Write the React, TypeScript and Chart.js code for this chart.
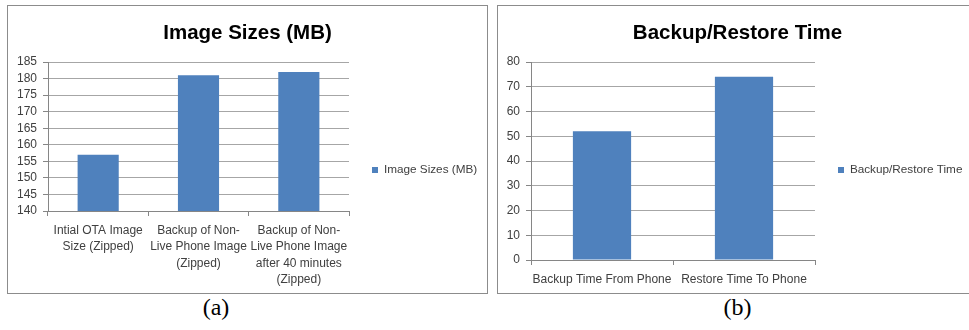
import React, { useEffect, useRef } from "react";
import { Chart, registerables } from "chart.js";

Chart.register(...registerables);

// ---- Data ----
const imageCategories: string[][] = [
  ["Intial OTA Image", "Size (Zipped)"],
  ["Backup of Non-", "Live Phone Image", "(Zipped)"],
  ["Backup of Non-", "Live Phone Image", "after 40 minutes", "(Zipped)"],
];
const imageSizes: number[] = [157, 181, 182];
const imageAxis: number[] = [140, 185, 5]; // min, max, step

const backupCategories: string[] = ["Backup Time From Phone", "Restore Time To Phone"];
const backupTimes: number[] = [52, 74];
const backupAxis: number[] = [0, 80, 10]; // min, max, step

const BAR = "#4f81bd";
const SANS = "'Liberation Sans', Arial, sans-serif";
const AXIS = "#868686";
const GRID = "#a6a6a6";
const TEXT = "#404040";

type Props = {
  title: string;
  seriesName: string;
  labels: any[];
  values: number[];
  axis: number[];
  yWidth: number;
  xHeight: number;
  legendWidth: number;
  width: number;
  height: number;
};

function BarChart(p: Props) {
  const ref = useRef<HTMLCanvasElement | null>(null);
  useEffect(() => {
    if (!ref.current) return;
    const fixLegend = {
      id: "fixLegend",
      beforeLayout(chart: any) {
        const lg = chart.legend;
        if (lg && !lg.__patched) {
          const orig = lg.fit.bind(lg);
          lg.fit = () => {
            orig();
            lg.width = p.legendWidth;
          };
          lg.__patched = true;
        }
      },
    };
    const chart = new Chart(ref.current, {
      type: "bar",
      data: {
        labels: p.labels,
        datasets: [
          {
            label: p.seriesName,
            data: p.values,
            backgroundColor: BAR,
            borderWidth: 0,
            barPercentage: 0.41,
            categoryPercentage: 1,
          },
        ],
      },
      plugins: [fixLegend],
      options: {
        animation: false,
        responsive: false,
        layout: { padding: 0 },
        plugins: {
          tooltip: { enabled: false },
          title: {
            display: true,
            text: p.title,
            color: "#000",
            font: { family: SANS, size: 20.5, weight: "bold", lineHeight: 1.2 },
            padding: { top: 15, bottom: 16.4 },
          },
          legend: {
            display: true,
            position: "right",
            title: { display: true, text: "", font: { size: 10, lineHeight: 1 }, padding: { top: 31, bottom: 0 } },
            labels: {
              boxWidth: 6,
              boxHeight: 6,
              padding: 23,
              color: TEXT,
              font: { family: SANS, size: 11.75 },
            },
          },
        },
        scales: {
          x: {
            offset: true,
            grid: {
              display: true,
              drawOnChartArea: false,
              drawTicks: true,
              tickLength: 5,
              offset: true,
              color: AXIS,
            },
            border: { display: true, color: AXIS },
            ticks: {
              color: TEXT,
              font: { family: SANS, size: 12, lineHeight: 1.375 },
              padding: 6,
              maxRotation: 0,
              minRotation: 0,
              autoSkip: false,
            },
            afterFit: (s: any) => {
              s.height = p.xHeight;
            },
          },
          y: {
            min: p.axis[0],
            max: p.axis[1],
            grid: { color: GRID, tickColor: AXIS, tickLength: 5, drawTicks: true },
            border: { display: true, color: AXIS },
            ticks: {
              stepSize: p.axis[2],
              autoSkip: false,
              maxTicksLimit: 100,
              color: TEXT,
              font: { family: SANS, size: 12 },
              padding: 6,
            },
            afterFit: (s: any) => {
              s.width = p.yWidth;
            },
          },
        },
      },
    } as any);
    return () => chart.destroy();
  }, []);
  return <canvas ref={ref} width={p.width} height={p.height} style={{ display: "block", width: p.width, height: p.height }} />;
}

const boxStyle = (left: number): React.CSSProperties => ({
  position: "absolute",
  left,
  top: 5,
  width: 481,
  height: 289,
  border: "1px solid #8c8c8c",
  boxSizing: "border-box",
  background: "#fff",
});

const captionStyle = (center: number): React.CSSProperties => ({
  position: "absolute",
  left: center - 50,
  width: 100,
  top: 295,
  textAlign: "center",
  fontFamily: "'Liberation Serif', 'Times New Roman', serif",
  fontSize: 24,
  lineHeight: "24px",
  color: "#000",
});

export default function App() {
  return (
    <div style={{ position: "absolute", left: 0, top: 0, width: 969, height: 330, overflow: "hidden", background: "#fff" }}>
      <div style={boxStyle(7)}>
        <BarChart
          title="Image Sizes (MB)"
          seriesName="Image Sizes (MB)"
          labels={imageCategories}
          values={imageSizes}
          axis={imageAxis}
          yWidth={40}
          xHeight={82}
          legendWidth={138}
          width={479}
          height={287}
        />
      </div>
      <div style={captionStyle(216)}>(a)</div>
      <div style={boxStyle(497)}>
        <BarChart
          title="Backup/Restore Time"
          seriesName="Backup/Restore Time"
          labels={backupCategories}
          values={backupTimes}
          axis={backupAxis}
          yWidth={33}
          xHeight={33}
          legendWidth={162}
          width={479}
          height={287}
        />
      </div>
      <div style={captionStyle(737.5)}>(b)</div>
    </div>
  );
}
